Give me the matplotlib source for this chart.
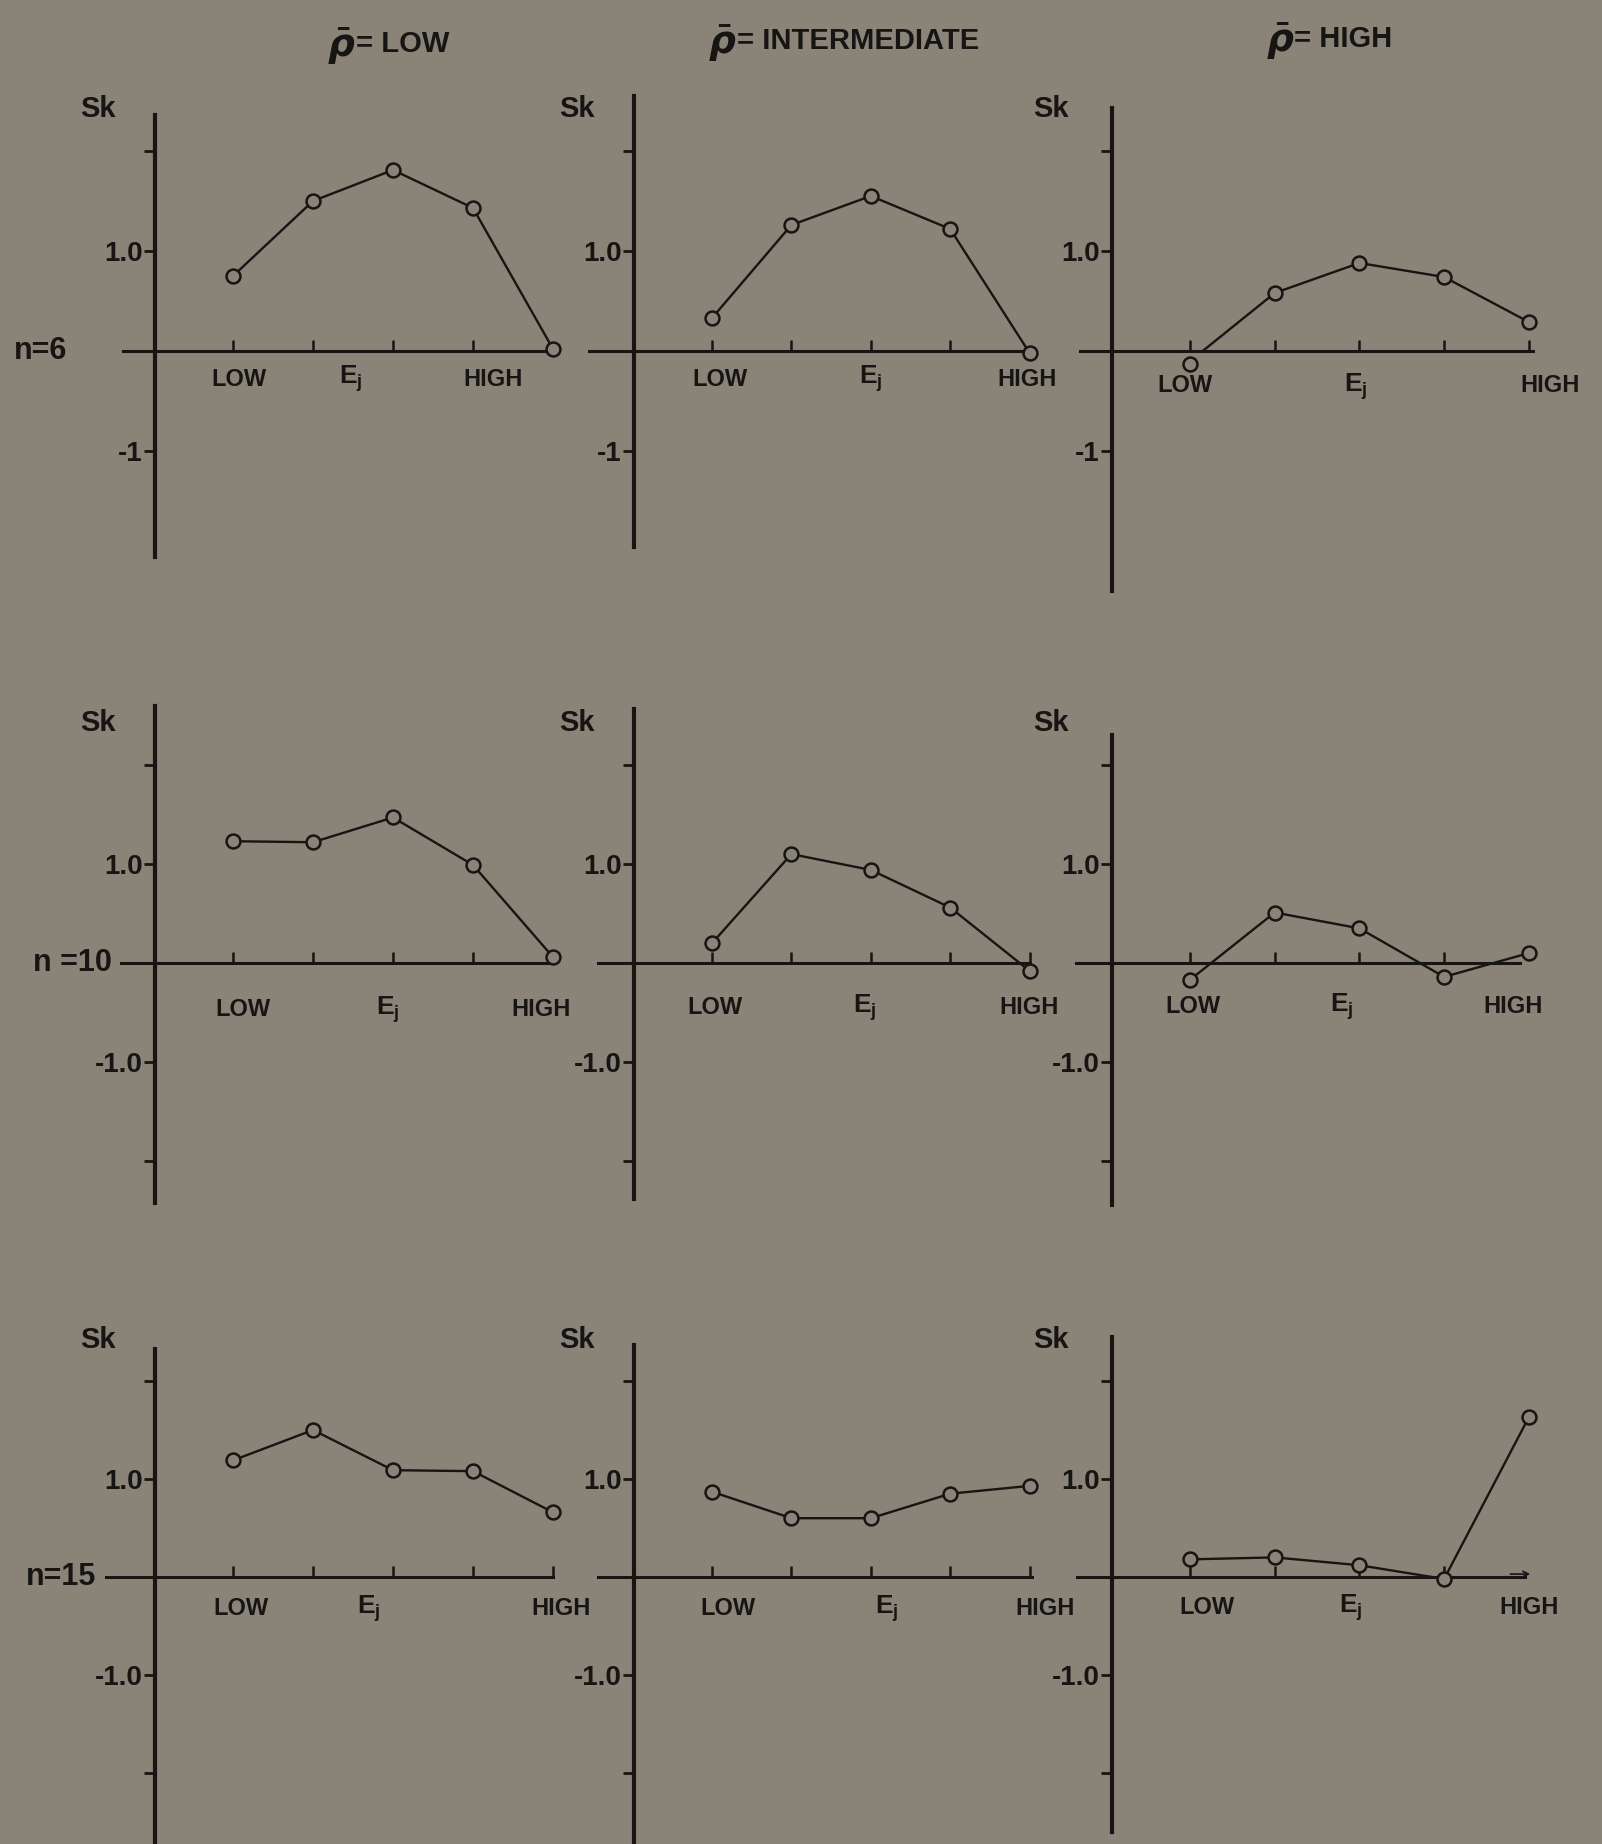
import numpy as np
import matplotlib
matplotlib.use("Agg")
import matplotlib.pyplot as plt

# ------------------------------------------------------------------
# Data: skewness Sk for five levels of E_j
# rows: n = 6, 10, 15 ; columns: rho-bar = LOW, INTERMEDIATE, HIGH
# ------------------------------------------------------------------
ej_levels = [1, 2, 3, 4, 5]

sk_n6_low = [0.75, 1.50, 1.81, 1.43, 0.02]
sk_n6_int = [0.33, 1.26, 1.55, 1.22, -0.02]
sk_n6_high = [-0.13, 0.58, 0.88, 0.74, 0.29]

sk_n10_low = [1.23, 1.22, 1.47, 0.99, 0.06]
sk_n10_int = [0.20, 1.10, 0.94, 0.56, -0.08]
sk_n10_high = [-0.17, 0.51, 0.35, -0.14, 0.10]

sk_n15_low = [1.19, 1.50, 1.09, 1.08, 0.66]
sk_n15_int = [0.87, 0.60, 0.60, 0.85, 0.93]
sk_n15_high = [0.18, 0.20, 0.12, -0.02, 1.63]

# in the n=6 / HIGH panel the line starts on the axis, not at the first point
n6_high_line_start = 1.15

col_titles = ["= LOW", "= INTERMEDIATE", "= HIGH"]
row_labels = ["n=6", "n =10", "n=15"]
ytick_vals = [[-1, 1, 2], [-2, -1, 1, 2], [-2, -1, 1, 2]]
ytick_text = [["-1", "1.0", ""], ["", "-1.0", "1.0", ""], ["", "-1.0", "1.0", ""]]

series = [[sk_n6_low, sk_n6_int, sk_n6_high],
          [sk_n10_low, sk_n10_int, sk_n10_high],
          [sk_n15_low, sk_n15_int, sk_n15_high]]

# ------------------------------------------------------------------
# Layout (pixels of the 1602x1844 output)
# ------------------------------------------------------------------
W, H = 1602, 1844
T1 = [233, 712, 1190]        # pixel x of E_j = 1 per column
SX = [80, 79.4, 84.7]        # pixels per E_j step
Y0 = [351, 963, 1577]        # pixel y of Sk = 0 per row
UY = [100, 99, 98]           # pixels per Sk unit
yaxis_x = [0.03, 0.02, 0.08]

y_top = [[2.36, 2.55, 2.43], [2.60, 2.57, 2.30], [2.33, 2.37, 2.45]]
y_bot = [[-2.06, -1.96, -2.40], [-2.42, -2.38, -2.44], [-2.9, -2.9, -2.60]]
x_left = [[-0.37, -0.55, -0.30], [-0.40, -0.44, -0.35], [-0.59, -0.43, -0.34]]
x_right = [[4.98, 4.99, 5.05], [4.98, 5.00, 4.90], [5.00, 5.03, 4.95]]
n_xticks = [[4, 4, 5], [4, 5, 4], [5, 5, 4]]

# label positions (data units of each panel)
low_pos = [[1.07, 1.10, 0.94], [1.12, 1.04, 1.04], [1.10, 1.20, 1.20]]
ej_pos = [[2.47, 3.00, 2.96], [2.94, 2.93, 2.79], [2.70, 3.20, 2.90]]
high_pos = [[4.25, 4.97, 5.25], [4.85, 4.99, 4.82], [5.10, 5.20, 5.00]]
lab_y = [[-0.28, -0.28, -0.35], [-0.47, -0.45, -0.44], [-0.32, -0.32, -0.31]]

BG = "#8a8478"
INK = "#161513"
FS = 17

plt.rcParams["font.family"] = ["Liberation Sans", "DejaVu Sans"]
plt.rcParams["font.weight"] = "bold"
plt.rcParams["mathtext.fontset"] = "dejavusans"

fig = plt.figure(figsize=(W / 100, H / 100), dpi=100, facecolor=BG)

XL = (-1.0, 6.0)
YL = (-3.0, 3.0)

for r in range(3):
    for c in range(3):
        left = T1[c] + (XL[0] - 1) * SX[c]
        width = (XL[1] - XL[0]) * SX[c]
        top = Y0[r] - YL[1] * UY[r]
        height = (YL[1] - YL[0]) * UY[r]
        ax = fig.add_axes([left / W, 1 - (top + height) / H, width / W, height / H])
        ax.set_xlim(*XL)
        ax.set_ylim(*YL)
        ax.patch.set_visible(False)

        for s in ["top", "right"]:
            ax.spines[s].set_visible(False)
        ax.spines["left"].set_position(("data", yaxis_x[c]))
        ax.spines["bottom"].set_position(("data", 0))
        ax.spines["left"].set_bounds(y_bot[r][c], y_top[r][c])
        ax.spines["bottom"].set_bounds(x_left[r][c], x_right[r][c])
        ax.spines["left"].set_linewidth(3.0)
        ax.spines["bottom"].set_linewidth(2.2)
        ax.spines["left"].set_color(INK)
        ax.spines["bottom"].set_color(INK)
        for sp in ax.spines.values():
            sp.set_clip_on(False)

        ax.set_yticks(ytick_vals[r])
        ax.set_yticklabels(ytick_text[r], fontsize=FS + 3, color=INK, fontweight="bold")
        ax.set_xticks(ej_levels[:n_xticks[r][c]])
        ax.tick_params(axis="y", direction="out", length=8, width=2, pad=1, colors=INK)
        ax.tick_params(axis="x", direction="in", length=8, width=1.8, colors=INK,
                       labelbottom=False)

        y = series[r][c]
        if r == 0 and c == 2:
            ax.plot([n6_high_line_start] + ej_levels[1:], [0] + y[1:], color=INK,
                    lw=1.7, clip_on=False, zorder=3)
            ax.plot(ej_levels, y, ls="none", marker="o", ms=10, mew=1.8, mec=INK,
                    mfc=BG, clip_on=False, zorder=4)
        else:
            ax.plot(ej_levels, y, color=INK, lw=1.7, marker="o", ms=10, mew=1.8,
                    mec=INK, mfc=BG, clip_on=False, zorder=3)

        if r == 2 and c == 2:
            ax.annotate("", xy=(x_right[r][c] + 0.1, 0.03), xytext=(x_right[r][c] - 0.2, 0.03),
                        arrowprops=dict(arrowstyle="->", color=INK, lw=1.2))

        ly = lab_y[r][c]
        ax.text(low_pos[r][c], ly, "LOW", ha="center", va="center", fontsize=FS, color=INK)
        ax.text(ej_pos[r][c], ly, r"E$_\mathregular{j}$", ha="center", va="center",
                fontsize=FS + 2, color=INK)
        ax.text(high_pos[r][c], ly, "HIGH", ha="center", va="center", fontsize=FS, color=INK)
        ax.text(yaxis_x[c] - 0.72, 2.42, "Sk", ha="center", va="center", fontsize=FS + 4,
                color=INK)

# column titles: large rho-bar symbol followed by the level name
rho_x = [341, 722, 1280]
name_x = [356, 737, 1294]
title_y = [44, 41, 39]
for c in range(3):
    fig.text(rho_x[c] / W, 1 - (title_y[c] + 2) / H, r"$\bar{\rho}$", ha="center",
             va="center", fontsize=27, color=INK)
    fig.text(name_x[c] / W, 1 - title_y[c] / H, col_titles[c], ha="left", va="center",
             fontsize=FS + 4, color=INK)

# row labels
row_x = [41, 72, 61]
for r in range(3):
    fig.text(row_x[r] / W, 1 - Y0[r] / H, row_labels[r], ha="center", va="center",
             fontsize=FS + 5, color=INK)

fig.savefig("out.png", dpi=100, facecolor=BG)
